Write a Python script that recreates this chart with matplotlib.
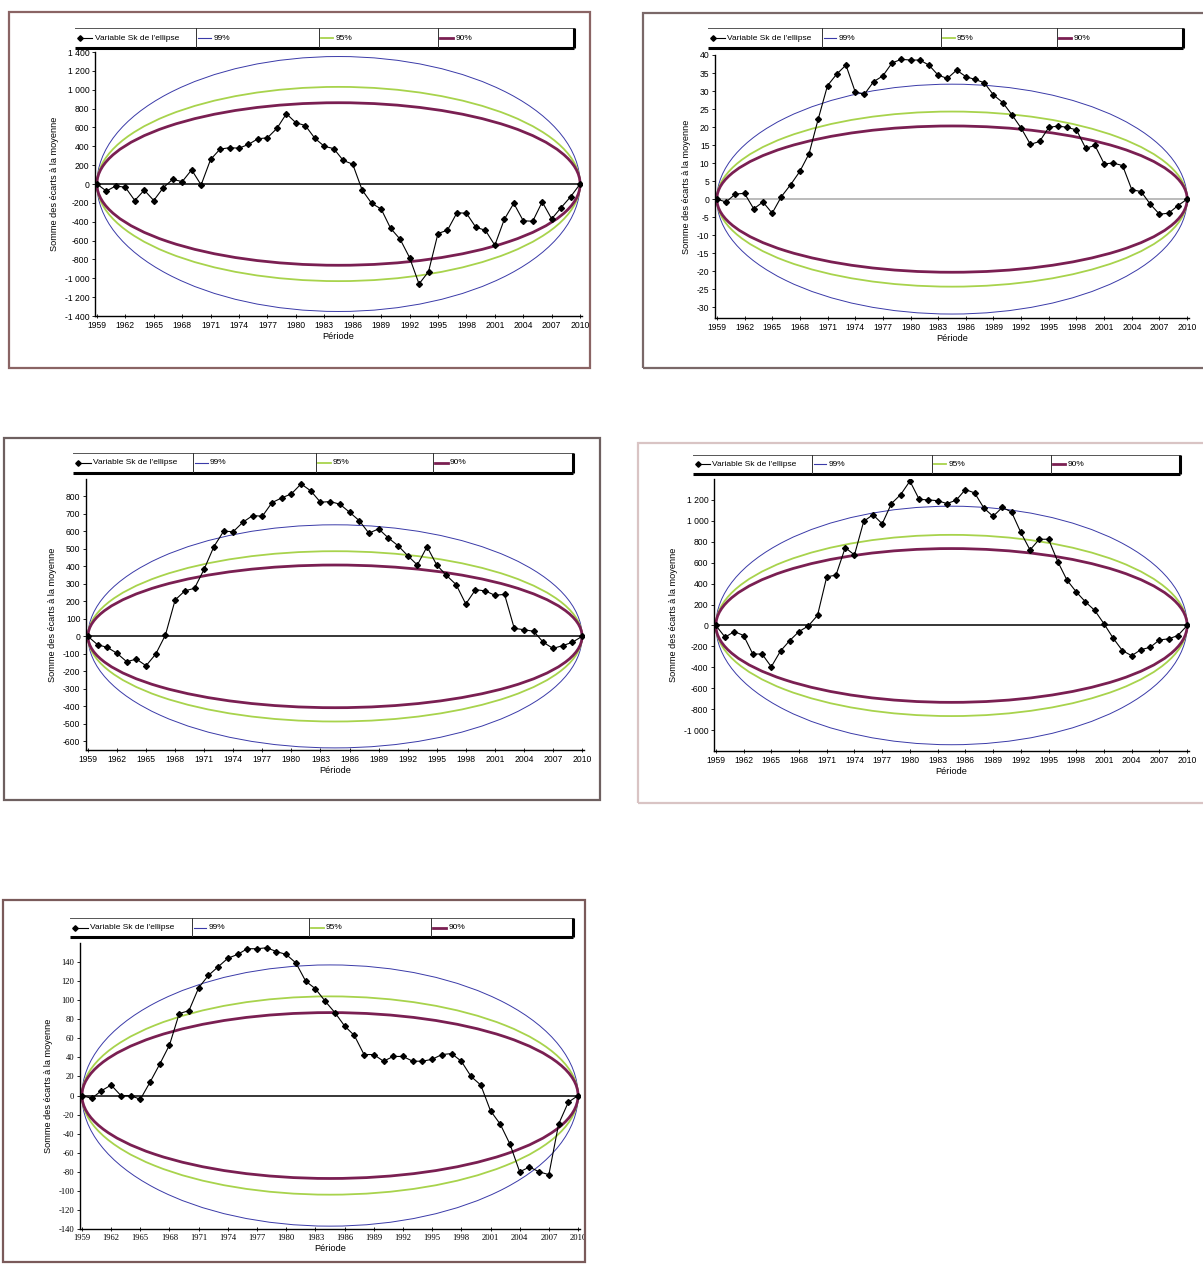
import matplotlib
matplotlib.use("Agg")
import matplotlib.pyplot as plt
from matplotlib.patches import Ellipse, Rectangle

W, H = 1203, 1279

years = list(range(1959, 2011))
xticks = list(range(1959, 2011, 3))

s1 = [0, -75, -20, -35, -175, -65, -175, -40, 50, 25, 150, -10, 260, 370, 385, 380, 420, 480,
      490, 590, 745, 650, 620, 485, 400, 375, 250, 210, -65, -205, -265, -470, -585, -780,
      -1060, -930, -525, -490, -305, -310, -460, -490, -650, -375, -205, -390, -395, -190,
      -370, -250, -135, 0]
s2 = [0, -0.8, 1.4, 1.6, -2.7, -0.8, -3.9, 0.7, 4.0, 7.7, 12.6, 22.3, 31.5, 34.7, 37.2, 29.8,
      29.1, 32.6, 34.2, 37.8, 38.8, 38.6, 38.6, 37.2, 34.4, 33.5, 35.8, 34.0, 33.2, 32.3, 28.9,
      26.8, 23.4, 19.7, 15.2, 16.0, 19.9, 20.3, 19.9, 19.2, 14.1, 14.9, 9.8, 10.0, 9.3, 2.6,
      2.1, -1.4, -4.2, -3.9, -1.8, 0]
s3 = [0, -48, -63, -97, -145, -130, -168, -101, 8, 208, 260, 275, 385, 513, 601, 599, 653, 691,
      687, 765, 792, 815, 872, 832, 767, 771, 756, 710, 662, 590, 615, 563, 519, 462, 408, 513,
      408, 349, 296, 185, 267, 260, 235, 240, 46, 38, 29, -34, -69, -53, -34, 0]
s4 = [0, -112, -58, -96, -273, -273, -395, -244, -144, -58, -5, 96, 465, 481, 744, 674, 995,
      1059, 972, 1165, 1251, 1380, 1206, 1200, 1193, 1165, 1197, 1299, 1267, 1123, 1043, 1129,
      1084, 889, 722, 824, 824, 610, 433, 321, 225, 144, 16, -122, -241, -289, -231, -209,
      -138, -128, -96, 0]
s5 = [0, -3, 5, 11, 0, 0, -4, 14, 33, 53, 86, 89, 113, 126, 135, 144, 148, 154, 154, 155, 151,
      148, 139, 120, 112, 99, 87, 73, 63, 43, 43, 36, 41, 41, 36, 36, 38, 43, 44, 36, 20, 11,
      -16, -30, -51, -80, -75, -80, -83, -30, -7, 0]

# half-heights of the ellipses (99%, 95%, 90%)
peaks1 = [1352, 1030, 862]
peaks2 = [31.9, 24.3, 20.3]
peaks3 = [638, 487, 408]
peaks4 = [1140, 866, 735]
peaks5 = [137, 104, 87]

yticks1 = list(range(-1400, 1401, 200))
yticks2 = list(range(-30, 41, 5))
yticks3 = list(range(-600, 801, 100))
yticks4 = list(range(-1000, 1201, 200))
yticks5 = list(range(-140, 141, 20))

legend_labels = ["Variable Sk de l'ellipse", "99%", "95%", "90%"]
ylabel = "Somme des écarts à la moyenne"
xlabel = "Période"

c99, c95, c90 = "#3a3aa8", "#a8d34c", "#7a1f52"

plt.rcParams['font.family'] = ['Liberation Sans', 'DejaVu Sans']

fig = plt.figure(figsize=(W / 100, H / 100), dpi=100)
fig.patch.set_facecolor("white")


def frect(x0, y0, x1, y1):
    return [x0 / W, 1 - y1 / H, (x1 - x0) / W, (y1 - y0) / H]


def fmt(v, sep):
    if isinstance(v, float) and not v.is_integer():
        return str(v)
    v = int(v)
    s = f"{abs(v):,}".replace(",", " " if sep else "")
    return ("-" if v < 0 else "") + s


def panel(frame, axr, lgr, data, peaks, ylim, yticks, sep, zero_col, frame_col,
          seps=(0.243, 0.488, 0.728), serif=False):
    fig.patches.append(Rectangle((frame[0] / W, 1 - frame[3] / H),
                                 (frame[2] - frame[0]) / W, (frame[3] - frame[1]) / H,
                                 transform=fig.transFigure, fill=False,
                                 edgecolor=frame_col, lw=1.6, zorder=0))
    ax = fig.add_axes(frect(*axr))
    ax.set_facecolor("none")
    ax.set_xlim(1958.8, 2010.2)
    ax.set_ylim(*ylim)
    for sp in ("top", "right"):
        ax.spines[sp].set_visible(False)
    ax.spines["left"].set_linewidth(1.0)
    ax.spines["bottom"].set_linewidth(1.0)
    for pk, col, lw in zip(peaks, (c99, c95, c90), (0.7, 1.3, 2.0)):
        ax.add_patch(Ellipse((1984.5, 0), 51, 2 * pk, fill=False, edgecolor=col,
                             lw=lw, zorder=2))
    ax.axhline(0, color=zero_col, lw=1.1, zorder=1)
    ax.plot(years, data, color="black", lw=0.8, marker="D", ms=3.0, zorder=4)
    ax.set_xticks(xticks)
    ax.set_xticklabels([str(y) for y in xticks])
    ax.set_yticks(yticks)
    ax.set_yticklabels([fmt(v, sep) for v in yticks])
    fam = ['Liberation Serif'] if serif else ['Liberation Sans']
    ax.tick_params(axis="x", direction="inout", length=3, width=0.6, labelsize=6.2, pad=2)
    ax.tick_params(axis="y", direction="out", length=2.5, width=0.6, labelsize=6.2, pad=1.5)
    for t in ax.get_xticklabels() + ax.get_yticklabels():
        t.set_family(fam)
    ax.set_xlabel(xlabel, fontsize=6.6, labelpad=1.5)
    ax.set_ylabel(ylabel, fontsize=6.6, labelpad=4)

    lg = fig.add_axes(frect(*lgr))
    lg.set_xlim(0, 1)
    lg.set_ylim(0, 1)
    lg.axis("off")
    lg.plot([0, 1], [1, 1], color="#555555", lw=0.7, clip_on=False)
    lg.plot([0, 1], [0, 0], color="black", lw=2.2, clip_on=False, solid_capstyle="butt")
    lg.plot([1, 1], [0, 1], color="black", lw=2.2, clip_on=False, solid_capstyle="butt")
    for s in seps:
        lg.plot([s, s], [0, 1], color="#333333", lw=0.7)
    starts = [0.01] + [s + 0.004 for s in seps]
    cols = ["black", c99, c95, c90]
    lws = [0.8, 0.8, 1.3, 2.0]
    for i, (st, lab) in enumerate(zip(starts, legend_labels)):
        lg.plot([st, st + 0.025], [0.5, 0.5], color=cols[i], lw=lws[i],
                marker="D" if i == 0 else None, ms=2.8, markevery=[0] if i == 0 else None)
        lg.text(st + 0.03, 0.5, lab, fontsize=6.0, va="center", ha="left",
                clip_on=True)
    return ax


panel((9, 12, 590, 368), (95, 52, 582, 316), (75, 28, 574, 48), s1, peaks1,
      (-1400, 1400), yticks1, True, "black", "#8a6464")
panel((643, 13, 1215, 368), (715, 55, 1189, 318), (708, 28, 1183, 48), s2, peaks2,
      (-33, 40), yticks2, False, "#a8a8a8", "#7a6868", seps=(0.24, 0.49, 0.735))
panel((4, 438, 600, 800), (86, 479, 584, 750), (73, 453, 573, 473), s3, peaks3,
      (-650, 900), yticks3, False, "black", "#6e6060", seps=(0.24, 0.486, 0.72))
panel((638, 443, 1215, 803), (714, 479, 1189, 751), (693, 455, 1180, 474), s4, peaks4,
      (-1200, 1400), yticks4, True, "black", "#d9c4c4", seps=(0.245, 0.49, 0.735))
panel((3, 900, 585, 1262), (80, 943, 580, 1229), (70, 918, 573, 937), s5, peaks5,
      (-140, 160), yticks5, False, "black", "#7a5a5a", seps=(0.242, 0.475, 0.718),
      serif=True)

fig.savefig("out.png", dpi=100)
